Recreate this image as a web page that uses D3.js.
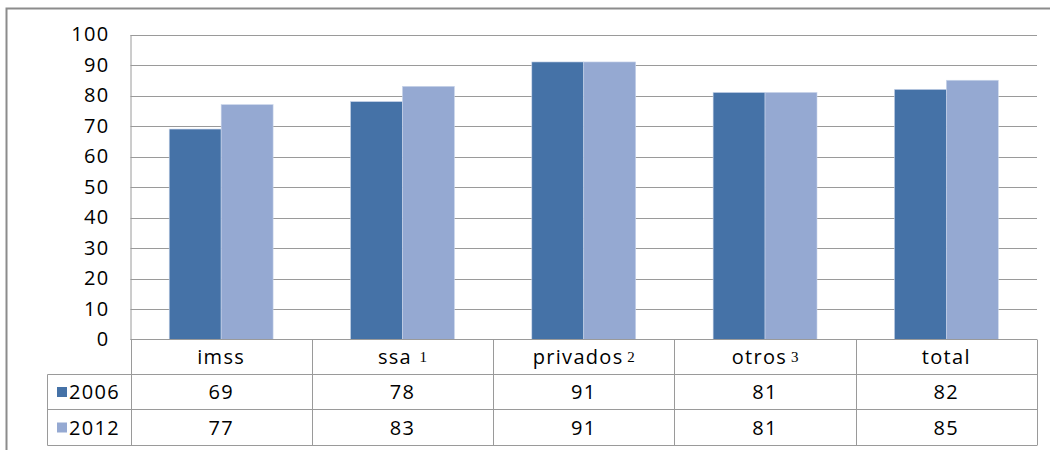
<!DOCTYPE html>
<html><head><meta charset="utf-8">
<script src="https://cdn.jsdelivr.net/npm/d3@7"></script>
<style>body{margin:0;background:#fff}svg{display:block}</style>
</head><body><svg id="c" width="1050" height="450"></svg>
<script>
const categories = ["imss", "ssa", "privados", "otros", "total"];
const footnotes = ["", "1", "2", "3", ""];
const seriesNames = ["2006", "2012"];
const values2006 = [69, 78, 91, 81, 82];
const values2012 = [77, 83, 91, 81, 85];
const yTicks = [0, 10, 20, 30, 40, 50, 60, 70, 80, 90, 100];
const colors = ["#4572A7", "#95A9D2"];

const series = [values2006, values2012];
const svg = d3.select("#c");
const font = "'Open Sans', sans-serif";
const fs = 20, ls = "1.3px";
const L = 130.5, R = 1037, T = 34.5, B = 339.5;

// outer frame
svg.append("path").attr("d", `M6.5,450 L6.5,8.5 L1050,8.5`).attr("fill","none").attr("stroke","#8c8c8c").attr("stroke-width",2);

const x = d3.scaleBand().domain(categories).range([L, R]).paddingInner(0.427).paddingOuter(0.2135);
const xs = d3.scaleBand().domain(seriesNames).range([0, x.bandwidth()]);
const y = d3.scaleLinear().domain([0, 100]).range([B, T]);

// gridlines
svg.append("g").selectAll("line").data(yTicks.filter(d => d > 0)).join("line")
  .attr("x1", L).attr("x2", R).attr("y1", d => Math.round(y(d)) + 0.5).attr("y2", d => Math.round(y(d)) + 0.5)
  .attr("stroke", "#9a9a9a").attr("stroke-width", 1);

// y axis
const yAxis = d3.axisLeft(y).tickValues(yTicks).tickSize(0).tickPadding(21);
const ga = svg.append("g").attr("transform", `translate(${L},0)`).call(yAxis);
ga.select(".domain").attr("stroke", "#9a9a9a");
ga.selectAll("text").attr("font-family", font).attr("font-size", fs).attr("letter-spacing", ls).attr("fill", "#000");

// bars
const g = svg.append("g");
categories.forEach((c, i) => {
  seriesNames.forEach((s, j) => {
    const v = series[j][i];
    g.append("rect")
      .attr("x", x(c) + xs(s)).attr("width", xs.bandwidth())
      .attr("y", y(v)).attr("height", B - y(v))
      .attr("fill", colors[j]).attr("stroke", "#c9d5ea").attr("stroke-width", 0.6);
  });
});

// data table
const step = x.step();
const colEdges = categories.map((c, i) => L + i * step).concat([R]);
const rows = [339.5, 374.5, 409.5, 445.5];
const legL = 47.5;
const tg = svg.append("g").attr("stroke", "#9a9a9a").attr("stroke-width", 1);
tg.append("line").attr("x1", L).attr("x2", R).attr("y1", rows[0]).attr("y2", rows[0]);
rows.slice(1).forEach(r => tg.append("line").attr("x1", legL).attr("x2", R).attr("y1", r).attr("y2", r));
colEdges.forEach(cx => tg.append("line").attr("x1", Math.round(cx) + 0.5).attr("x2", Math.round(cx) + 0.5).attr("y1", rows[0]).attr("y2", rows[3]));
tg.append("line").attr("x1", legL).attr("x2", legL).attr("y1", rows[1]).attr("y2", rows[3]);

// header labels
categories.forEach((c, i) => {
  const cx = L + (i + 0.5) * step;
  const t = svg.append("text").attr("x", cx).attr("y", (rows[0] + rows[1]) / 2 + 7)
    .attr("text-anchor", "middle").attr("font-family", font).attr("font-size", fs).attr("letter-spacing", ls).attr("fill", "#000");
  t.append("tspan").text(c);
  if (footnotes[i]) {
    t.append("tspan").text((i === 1 ? "\u00a0\u00a0" : "\u00a0") + footnotes[i])
      .attr("font-family", "'Liberation Serif', 'DejaVu Serif', serif").attr("font-size", 15).attr("letter-spacing", "0px").attr("dy", -2);
  }
});

// series rows
seriesNames.forEach((s, j) => {
  const ry = (rows[j + 1] + rows[j + 2]) / 2;
  svg.append("rect").attr("x", 57).attr("y", ry - 5).attr("width", 10).attr("height", 10).attr("fill", colors[j]);
  svg.append("text").attr("x", 69).attr("y", ry + 7).attr("font-family", font).attr("font-size", fs).attr("letter-spacing", ls).attr("fill", "#000").text(s);
  categories.forEach((c, i) => {
    svg.append("text").attr("x", L + (i + 0.5) * step).attr("y", ry + 7).attr("text-anchor", "middle")
      .attr("font-family", font).attr("font-size", fs).attr("letter-spacing", ls).attr("fill", "#000").text(series[j][i]);
  });
});
</script></body></html>
